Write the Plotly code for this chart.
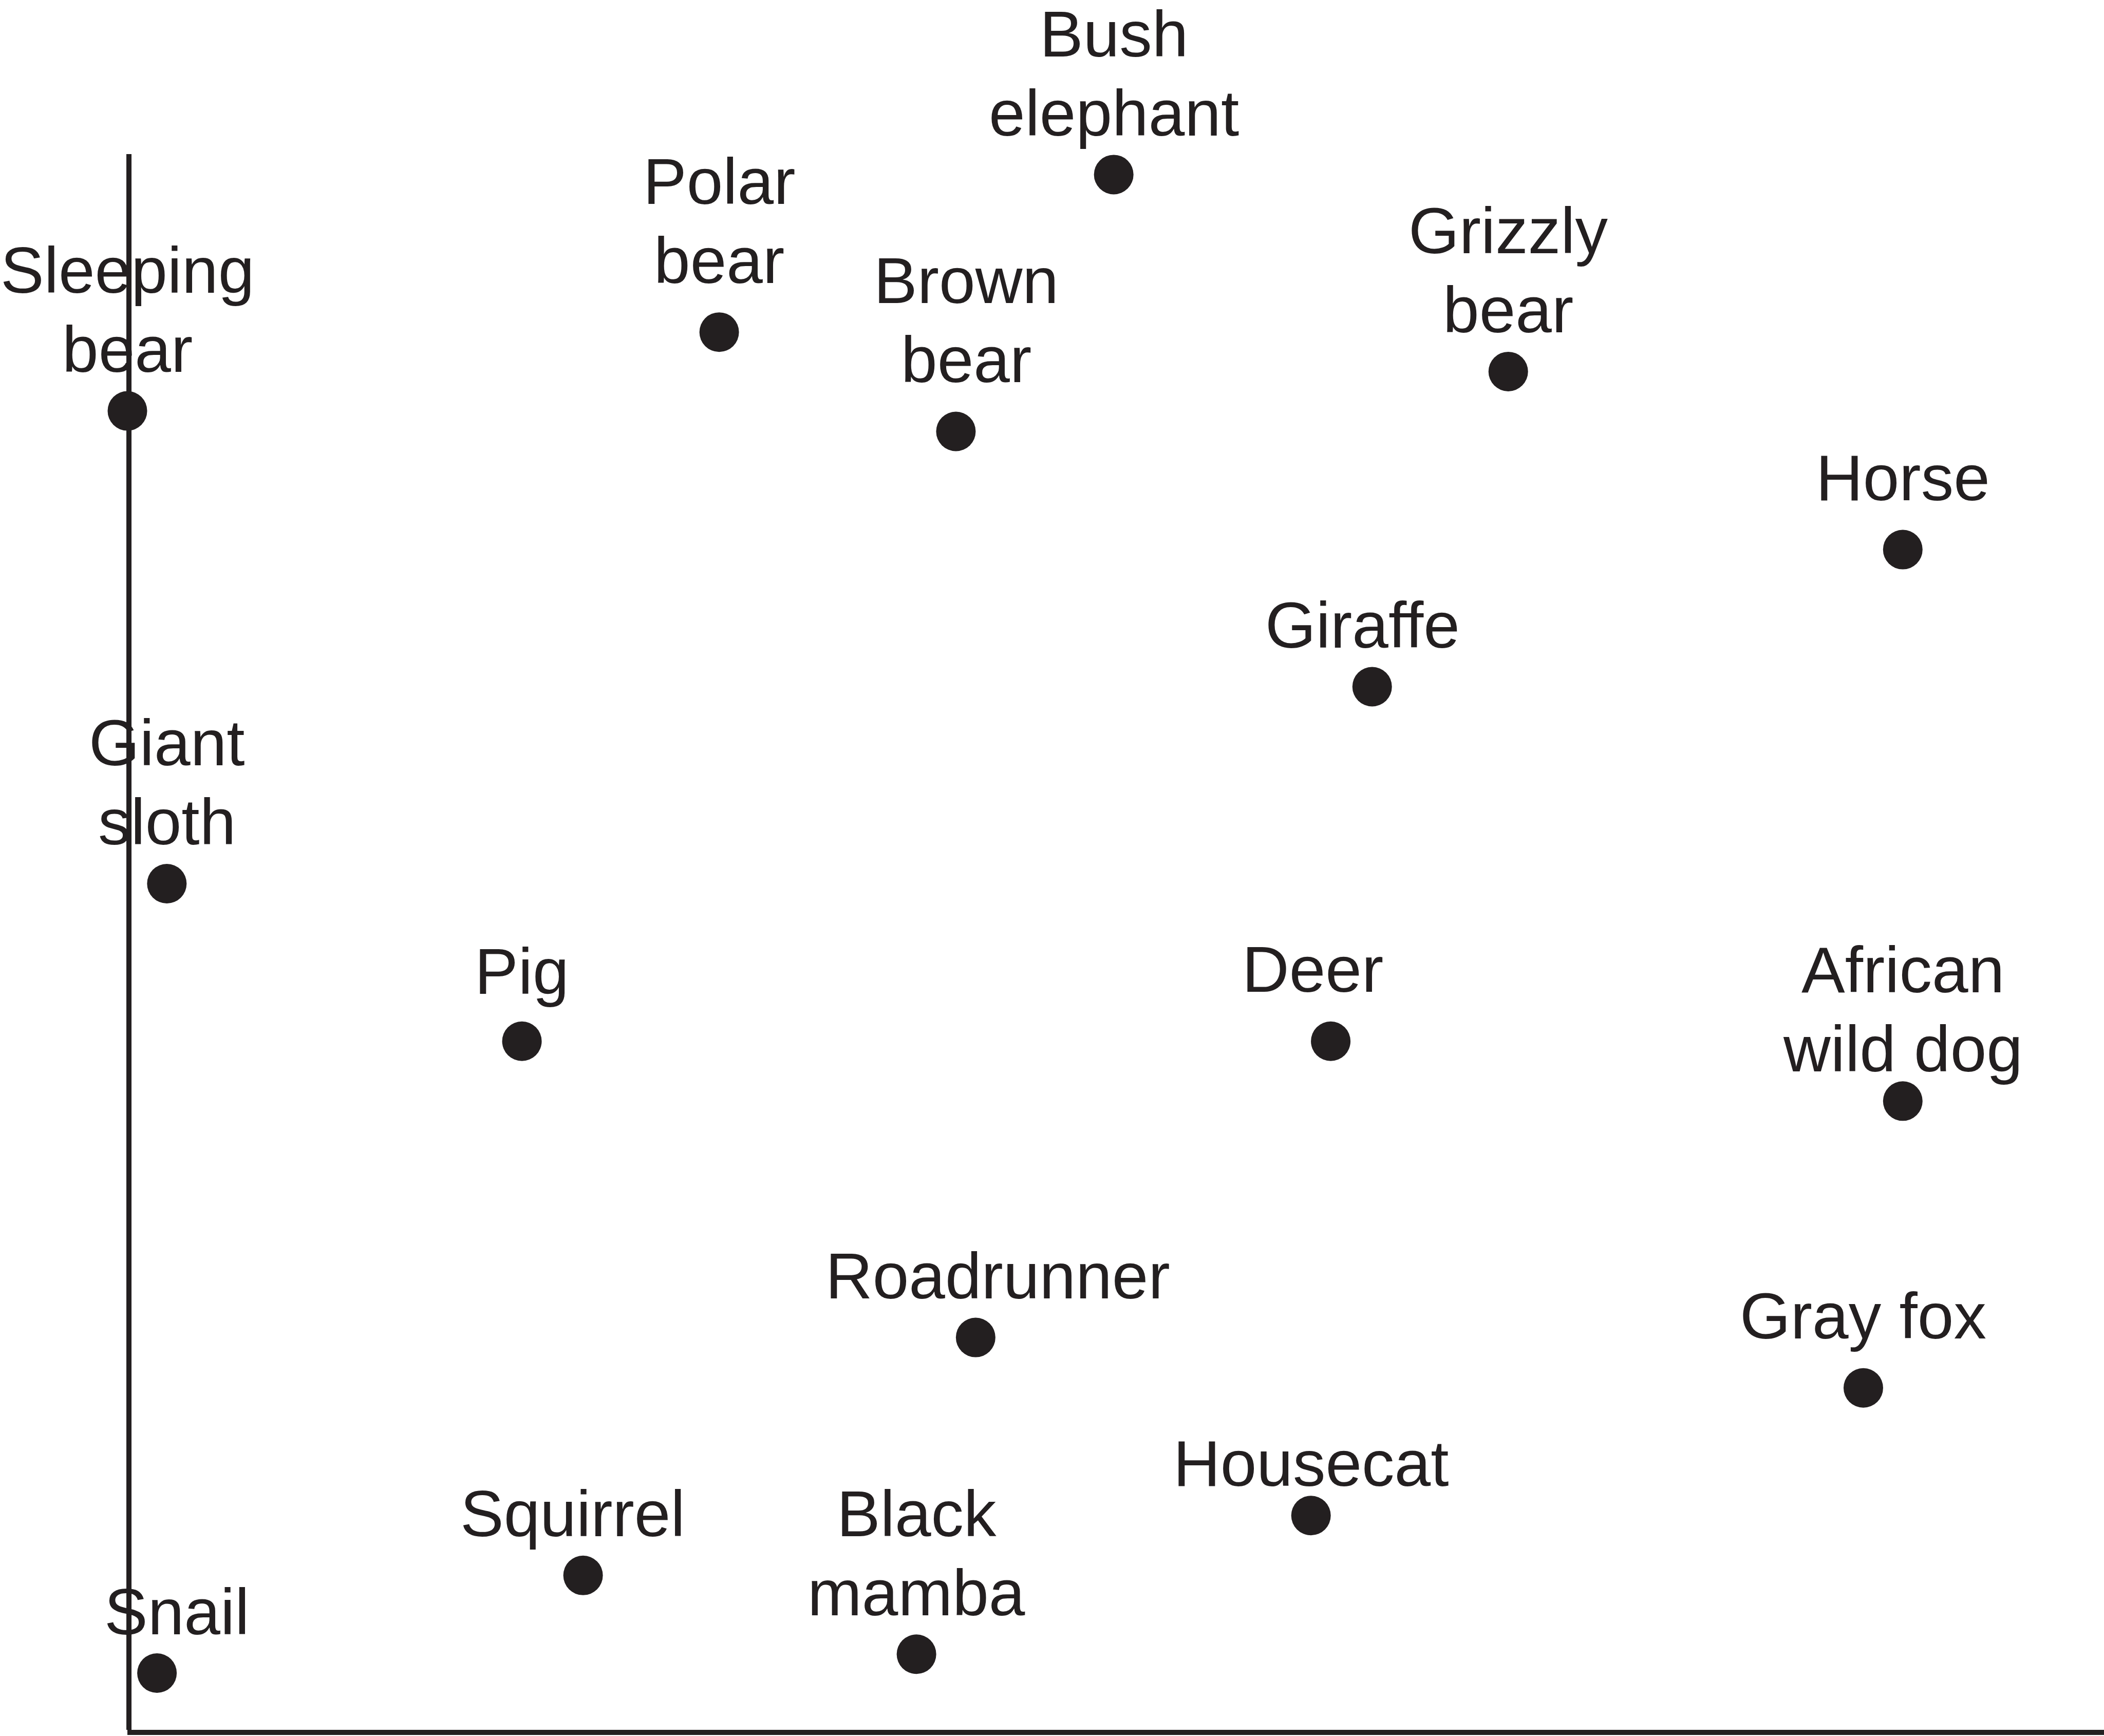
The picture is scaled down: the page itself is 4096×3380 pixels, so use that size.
import plotly.graph_objects as go

# ---- data ----
animals = ["Sleeping bear", "Polar bear", "Bush elephant", "Brown bear", "Grizzly bear",
           "Horse", "Giraffe", "Giant sloth", "Pig", "Deer", "African wild dog",
           "Roadrunner", "Gray fox", "Housecat", "Squirrel", "Black mamba", "Snail"]
x_vals = [0.0, 3.0, 5.0, 4.2, 7.0, 9.0, 6.31, 0.2, 2.0, 6.1, 9.0, 4.3, 8.8, 6.0, 2.31, 4.0, 0.15]
y_vals = [8.37, 8.87, 9.87, 8.24, 8.62, 7.49, 6.62, 5.37, 4.37, 4.37, 3.99, 2.49, 2.17, 1.36, 0.98, 0.48, 0.36]
label_lines = [["Sleeping", "bear"], ["Polar", "bear"], ["Bush", "elephant"], ["Brown", "bear"],
               ["Grizzly", "bear"], ["Horse"], ["Giraffe"], ["Giant", "sloth"], ["Pig"], ["Deer"],
               ["African", "wild dog"], ["Roadrunner"], ["Gray fox"], ["Housecat"], ["Squirrel"],
               ["Black", "mamba"], ["Snail"]]

# ---- style / layout parameters ----
INK = "#231f20"
FONT = "Liberation Sans, Arial, Helvetica, sans-serif"
FONT_SIZE = 127
LINE_STEP = 154      # px between label lines
BASE_SHIFT = 140     # px from dot centre to centre of bottom label line
LABEL_DX = {"Brown bear": 20, "Deer": -35, "Roadrunner": 43, "Snail": 38,
            "Squirrel": -20, "Giraffe": -19}
LABEL_DY = {"Sleeping bear": -20, "Bush elephant": -20, "Grizzly bear": -20,
            "Giraffe": -20, "Giant sloth": -20, "Pig": -4, "African wild dog": -38,
            "Roadrunner": -20, "Housecat": -38, "Squirrel": -20, "Black mamba": -20,
            "Snail": -20}

W, H = 4096, 3380
X0_PX = 248.0        # pixel position of x = 0
YLINE_PX = 250.5     # left axis line position

fig = go.Figure()
fig.add_trace(go.Scatter(
    x=x_vals, y=y_vals, mode="markers",
    marker=dict(size=77, color=INK, line=dict(width=0)),
    cliponaxis=False, hoverinfo="skip", showlegend=False,
))

annotations = []
for name, xv, yv, lines in zip(animals, x_vals, y_vals, label_lines):
    n = len(lines)
    for i, line in enumerate(lines):
        k = n - 1 - i  # 0 = bottom line
        annotations.append(dict(
            x=xv, y=yv, xref="x", yref="y", text=line, showarrow=False,
            xanchor="center", yanchor="middle",
            xshift=LABEL_DX.get(name, 0),
            yshift=BASE_SHIFT + LABEL_DY.get(name, 0) + k * LINE_STEP,
            font=dict(family=FONT, size=FONT_SIZE, color=INK),
        ))

fig.update_layout(
    width=W, height=H,
    margin=dict(l=0, r=0, t=0, b=0, pad=0),
    paper_bgcolor="white", plot_bgcolor="white",
    showlegend=False,
    annotations=annotations,
    xaxis=dict(range=[0, 10.02], domain=[X0_PX / W, 1.0],
               showline=True, linewidth=10, linecolor=INK,
               showgrid=False, zeroline=False, showticklabels=False, ticks=""),
    yaxis=dict(range=[0, 10], domain=[12 / H, (H - 300) / H],
               anchor="free", position=YLINE_PX / W,
               showline=True, linewidth=10, linecolor=INK,
               showgrid=False, zeroline=False, showticklabels=False, ticks=""),
)

fig.write_html("out.html")
